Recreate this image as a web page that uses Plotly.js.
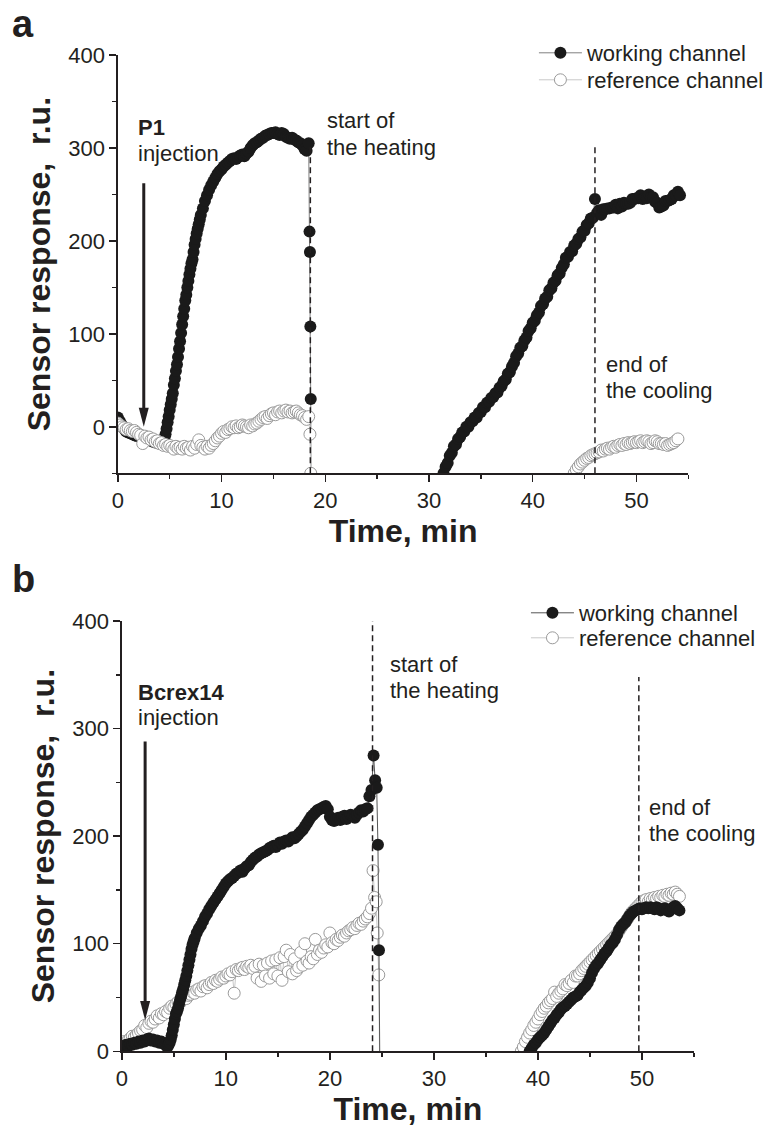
<!DOCTYPE html>
<html><head><meta charset="utf-8">
<script src="https://cdn.plot.ly/plotly-3.0.1.min.js"></script>
<style>html,body{margin:0;padding:0;background:#fff;}#chart{width:769px;height:1136px;}</style>
</head><body><div id="chart"></div>
<script>
// ---------- data (sensor response, r.u.) ----------
// Readings are sampled every DT minutes; steep rises are read every DT_FAST minutes.
const DT = 0.2, DT_FAST = 0.1;
const tickX = [0, 10, 20, 30, 40, 50];
const tickY = [0, 100, 200, 300, 400];

// Panel a – P1, working channel
const aWorkBase_t0 = 0;     // DT
const aWorkBase = [10,6,2,-2,-5,-6,-7,-8,-9,-10,-10,-11,-12,-13,-13,-14,-15,-16,-17,-17,-18,-17,-15];
const aWorkRise_t0 = 4.5;   // DT_FAST
const aWorkRise = [-12,-8,-2,5,11,18,24,30,36,45,
  52,60,67,75,84,92,101,110,119,127,
  136,142,150,157,164,170,176,180,188,196,
  202,208,213,218,223,228];
const aWorkTop_t0 = 8.2;    // DT
const aWorkTop = [235,243,249,255,260,264,268,272,275,
  277,280,282,284,286,288,289,288,290,292,
  293,291,294,296,300,303,305,306,308,310,
  311,313,314,315,316,316,317,315,314,316,
  315,312,311,310,311,309,308,306,305,303,
  299,297,305];
const aWorkDrop_t = [18.48, 18.52, 18.56, 18.6, 18.64];
const aWorkDrop = [210, 188, 108, 30, -120];
const aWork2_t0 = 31.2;     // DT
const aWork2 = [-56,
  -50,-43,-39,-31,-28,-21,-19,-13,-11,
  -6,-5,0,0,5,6,10,10,15,16,
  21,21,26,27,31,32,36,37,42,44,
  49,51,57,59,65,69,76,79,85,87,
  93,96,103,106,112,114,120,123,130,132,
  138,140,147,149,155,157,163,165,171,175,
  182,183,188,189,195,197,202,204,210,211,
  217,219,224,225,245,230,233,228,234,234,
  235,235,236,236,239,235,240,237,241,240,
  240,241,245,245,246,246,249,245,246,246,
  250,247,247,242,241,236,237,238,243,243,
  244,245,249,249,253,249];

// Panel a – reference channel
const aRef1_t0 = 0;         // DT
const aRef1 = [4,2,0,-1,-3,-2,-4,-5,-4,-6,
  -8,-9,-18,-10,-12,-11,-14,-13,-16,-15,
  -18,-17,-20,-19,-21,-20,-22,-24,-21,-23,
  -22,-24,-21,-23,-22,-25,-21,-23,-19,-14,
  -20,-22,-24,-21,-23,-20,-18,-15,-12,-10,
  -7,-5,-6,-3,-2,0,-1,1,-1,0,
  2,1,0,-1,2,1,3,4,6,8,
  10,11,9,12,14,15,13,16,17,15,
  17,18,16,17,15,16,17,15,13,12,
  10,8,11];
const aRefDrop_t = [18.52, 18.6, 18.66];
const aRefDrop = [-8, -50, -120];
const aRef2_t0 = 43.8;      // DT
const aRef2 = [-56,-50,-46,-43,-40,-38,-36,-34,-33,-31,
  -30,-29,-28,-27,-25,-26,-24,-23,-24,-22,
  -21,-22,-20,-19,-20,-18,-19,-17,-18,-17,
  -16,-17,-16,-15,-17,-16,-15,-16,-18,-17,
  -15,-16,-18,-18,-19,-18,-20,-19,-18,-17,
  -15,-13];

// Panel b – Bcrex14, working channel
const bWorkBase_t0 = 0;     // DT
const bWorkBase = [5,4,6,5,7,6,8,7,9,8,10,9,11,12,10,11,9,10,8,9,7,6];
const bWorkRise_t0 = 4.3;   // DT_FAST
const bWorkRise = [5,4,6,8,11,15,20,25,30,35,
  37,40,44,48,51,55,58,62,66,70,
  75,80,85,90,95,99,102,105];
const bWorkTop_t0 = 7.2;    // DT
const bWorkTop = [110,114,117,121,
  125,128,132,135,138,141,144,147,150,153,
  156,158,160,161,163,165,166,168,167,170,
  172,173,176,178,180,181,183,184,185,186,
  187,189,190,191,190,192,194,193,195,196,
  195,197,199,198,200,202,204,206,209,212,
  215,218,220,222,224,225,226,227,228,225,
  218,215,214,216,217,215,218,219,216,218,
  220,219,217,220,222,224,223,225,226,237];
const bWorkDrop_t = [24.0, 24.2, 24.35, 24.5, 24.62, 24.72, 24.82];
const bWorkDrop = [243, 275, 252, 245, 192, 94, -40];
const bWork2_t0 = 38.8;     // DT
const bWork2 = [-8,
  -5,0,3,6,8,11,13,15,17,20,
  23,26,29,31,34,36,39,41,42,44,
  46,48,50,51,52,55,57,59,61,64,
  68,73,77,80,82,85,88,91,93,96,
  99,101,104,108,113,116,118,120,123,126,
  128,130,131,132,133,132,133,134,133,134,
  133,132,134,133,131,132,133,131,130,132,
  134,135,133,131];

// Panel b – reference channel
const bRef1_t0 = 0;         // DT
const bRef1 = [8,9,8,10,12,14,13,15,17,19,
  20,24,22,26,28,27,30,33,31,35,
  34,37,36,40,42,41,44,46,45,48,
  50,49,52,53,55,54,57,58,56,60,
  61,59,62,64,63,66,65,67,69,68,
  70,72,71,74,54,76,75,77,78,76,
  79,78,80,77,79,68,81,65,80,70,
  82,68,84,72,85,70,87,66,88,94,
  74,90,72,86,75,78,92,80,100,84,
  82,88,86,104,90,94,92,96,99,97,
  110,101,100,104,103,106,108,107,110,112,
  113,115,114,117,119,118,121,123,125,128];
const bRefDrop_t = [24.0, 24.15, 24.3, 24.45, 24.55, 24.7, 24.8];
const bRefDrop = [133, 168, 143, 139, 110, 71, -30];
const bRef2_t0 = 38.2;      // DT
const bRef2 = [-5,
  0,4,9,13,17,20,24,27,30,34,
  37,40,42,45,47,49,55,51,54,56,
  58,62,61,63,66,64,70,70,72,75,
  77,79,81,83,85,87,89,91,93,95,
  97,99,101,103,105,107,109,112,115,118,
  120,123,126,129,131,133,135,137,139,140,
  141,139,142,141,143,142,144,143,145,144,
  146,145,147,146,148,146,144];

// event markers (min) and the response at which each dashed line starts
const heatA = 18.56, heatATop = 304, coolA = 46.0, coolATop = 302;
const heatB = 24.1, heatBTop = 400, coolB = 49.7, coolBTop = 348;
const injA = 2.5, injATail = 262, injATip = 0;
const injB = 2.24, injBTail = 288, injBTip = 29;

// ---------- helpers ----------
function seg(t0, dt, vals) {
  const x = [];
  for (let i = 0; i < vals.length; i++) x.push(+(t0 + i * dt).toFixed(2));
  return {x: x, y: vals.slice()};
}
function pts(ts, vals) { return {x: ts.slice(), y: vals.slice()}; }
const GAP = {x: [null], y: [null]};
function chain(parts) {
  return {x: [].concat(...parts.map(p => p.x)), y: [].concat(...parts.map(p => p.y))};
}
const W = 769, H = 1136;
const PX = v => v / W, PY = v => 1 - v / H;
const F = 'Liberation Sans, Arial, Helvetica, sans-serif';
const INK = '#231f20';

const sAW = chain([seg(aWorkBase_t0, DT, aWorkBase), seg(aWorkRise_t0, DT_FAST, aWorkRise), seg(aWorkTop_t0, DT, aWorkTop),
                   pts(aWorkDrop_t, aWorkDrop), GAP, seg(aWork2_t0, DT, aWork2)]);
const sAR = chain([seg(aRef1_t0, DT, aRef1), pts(aRefDrop_t, aRefDrop), GAP, seg(aRef2_t0, DT, aRef2)]);
const sBW = chain([seg(bWorkBase_t0, DT, bWorkBase), seg(bWorkRise_t0, DT_FAST, bWorkRise), seg(bWorkTop_t0, DT, bWorkTop),
                   pts(bWorkDrop_t, bWorkDrop), GAP, seg(bWork2_t0, DT, bWork2)]);
const sBR = chain([seg(bRef1_t0, DT, bRef1), pts(bRefDrop_t, bRefDrop), GAP, seg(bRef2_t0, DT, bRef2)]);

const workMarker = {symbol: 'circle', size: 12, color: '#1a1a1a', line: {width: 0}};
const refMarker = {symbol: 'circle', size: 12, color: '#ffffff', line: {color: '#9a9a9a', width: 1}};

const traces = [
  {x: sAW.x, y: sAW.y, xaxis: 'x', yaxis: 'y', mode: 'lines+markers', name: 'working channel', showlegend: true,
   line: {color: '#808080', width: 1}, marker: workMarker, legend: 'legend'},
  {x: sAR.x, y: sAR.y, xaxis: 'x', yaxis: 'y', mode: 'lines+markers', name: 'reference channel', showlegend: true,
   line: {color: '#c8c8c8', width: 1}, marker: refMarker, legend: 'legend3'},
  {x: sBR.x, y: sBR.y, xaxis: 'x2', yaxis: 'y2', mode: 'lines+markers', name: 'reference channel', showlegend: true,
   line: {color: '#c8c8c8', width: 1}, marker: refMarker, legend: 'legend4'},
  {x: sBW.x, y: sBW.y, xaxis: 'x2', yaxis: 'y2', mode: 'lines+markers', name: 'working channel', showlegend: true,
   line: {color: '#555555', width: 1}, marker: workMarker, legend: 'legend2'}
];

const minorX = {ticks: 'outside', ticklen: 4, tickwidth: 1.5, tickcolor: INK, showgrid: false, dtick: 5, tick0: 0};
const minorY = {ticks: 'outside', ticklen: 4, tickwidth: 1.5, tickcolor: INK, showgrid: false, dtick: 50, tick0: 0};
function axis(extra) {
  return Object.assign({
    showline: true, linecolor: INK, linewidth: 1.5, mirror: false,
    ticks: 'outside', ticklen: 7, tickwidth: 1.5, tickcolor: INK,
    showgrid: false, zeroline: false, fixedrange: true,
    tickfont: {family: F, size: 22, color: INK}
  }, extra);
}
const xTitle = {text: '<b>Time, min</b>', font: {family: F, size: 32, color: INK}, standoff: 4};
const yTitle = {text: '<b>Sensor response,  r.u.</b>', font: {family: F, size: 32, color: INK}, standoff: 8};

const dash = {color: INK, width: 1.5, dash: '6px,4px'};
function vline(xr, yr, x, yb, yt) { return {type: 'line', xref: xr, yref: yr, x0: x, x1: x, y0: yb, y1: yt, line: dash, layer: 'above'}; }
function shaft(xr, yr, x, tail, tip) {
  return {type: 'line', xref: xr, yref: yr, x0: x, x1: x, y0: tail, y1: tip, line: {color: INK, width: 3}, layer: 'above'};
}
function head(xr, yr, x, tip) {
  return {type: 'path', xref: xr, yref: yr, xsizemode: 'pixel', ysizemode: 'pixel', xanchor: x, yanchor: tip,
          path: 'M-5,19 L5,19 L0,0 Z', fillcolor: INK, line: {width: 0}, layer: 'above'};
}
function txt(text, xpx, baseline, size, bold) {
  return {text: bold ? '<b>' + text + '</b>' : text, xref: 'paper', yref: 'paper', x: PX(xpx), y: PY(baseline - 0.347 * size),
          xanchor: 'left', yanchor: 'middle', showarrow: false, font: {family: F, size: size, color: INK}};
}
function leg(xpx, topPx) {
  return {visible: true, x: PX(xpx), y: PY(topPx), xanchor: 'left', yanchor: 'top', bgcolor: 'rgba(0,0,0,0)', borderwidth: 0,
          font: {family: F, size: 22, color: INK}, itemwidth: 43, itemclick: false, itemdoubleclick: false};
}

const layout = {
  width: W, height: H, margin: {l: 0, r: 0, t: 0, b: 0},
  showlegend: true,
  paper_bgcolor: '#fff', plot_bgcolor: 'rgba(0,0,0,0)',
  font: {family: F, color: INK},
  xaxis: axis({domain: [PX(118.3), PX(691)], anchor: 'y', range: [0, 55], tickvals: tickX, minor: minorX, title: xTitle}),
  yaxis: axis({domain: [PY(473.3), PY(55)], anchor: 'x', range: [-50, 400], tickvals: tickY, minor: minorY, title: yTitle}),
  xaxis2: axis({domain: [PX(122.3), PX(696.7)], anchor: 'y2', range: [0, 55], tickvals: tickX, minor: minorX, title: xTitle}),
  yaxis2: axis({domain: [PY(1051.3), PY(621)], anchor: 'x2', range: [0, 400], tickvals: tickY, minor: minorY, title: yTitle}),
  legend: leg(536, 32),
  legend3: leg(536, 59),
  legend2: leg(528, 592),
  legend4: leg(528, 617),
  shapes: [
    vline('x', 'y', heatA, -50, heatATop), vline('x', 'y', coolA, -50, coolATop),
    vline('x2', 'y2', heatB, 0, heatBTop), vline('x2', 'y2', coolB, 0, coolBTop),
    shaft('x', 'y', injA, injATail, injATip + 10), head('x', 'y', injA, injATip),
    shaft('x2', 'y2', injB, injBTail, injBTip + 10), head('x2', 'y2', injB, injBTip)
  ],
  annotations: [
    txt('a', 10, 37, 38, true),
    txt('P1', 136.5, 135, 22, true),
    txt('injection', 136.5, 161, 22, false),
    txt('start of', 326.5, 128, 22, false),
    txt('the heating', 326.5, 155, 22, false),
    txt('end of', 606.5, 372, 22, false),
    txt('the cooling', 606.5, 398, 22, false),
    txt('b', 10, 592, 38, true),
    txt('Bcrex14', 136.5, 700, 22, true),
    txt('injection', 136.5, 725.5, 22, false),
    txt('start of', 389.5, 672, 22, false),
    txt('the heating', 389.5, 698, 22, false),
    txt('end of', 649.5, 815, 22, false),
    txt('the cooling', 649.5, 841, 22, false)
  ]
};

Plotly.newPlot('chart', traces, layout, {staticPlot: true, displayModeBar: false});
</script>
</body></html>
